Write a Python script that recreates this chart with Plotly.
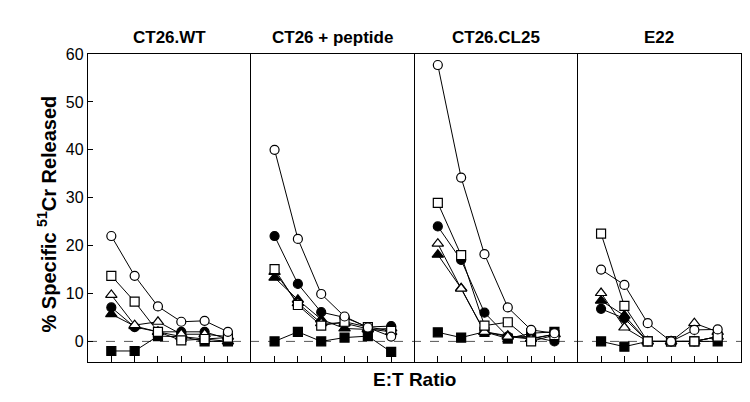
import plotly.graph_objects as go
from plotly.subplots import make_subplots

panels = ["CT26.WT", "CT26 + peptide", "CT26.CL25", "E22"]
et_positions = [1, 2, 3, 4, 5, 6]

open_circle = [
    [22, 13.7, 7.3, 4.1, 4.3, 2.0],
    [40, 21.4, 9.9, 5.2, 2.9, 1.0],
    [57.7, 34.2, 18.2, 7.1, 2.4, 1.7],
    [15, 11.8, 3.8, 0, 2.4, 2.5],
]
open_square = [
    [13.7, 8.3, 2.0, 0.2, 0.5, 0.8],
    [15.1, 7.6, 3.3, 4.1, 3.0, 2.2],
    [28.9, 18, 3.3, 4.0, 0, 1.3],
    [22.5, 7.4, 0, 0, 0, 1.0],
]
open_triangle = [
    [9.7, 3.4, 4.1, 1.5, 1.5, 1],
    [14.5, 8, 3.8, 3.8, 2.6, 2],
    [20.4, 11, 2, 1, 0.5, 1.5],
    [10.1, 2.9, 0, 0, 3.8, 2],
]
filled_circle = [
    [7.1, 3, 2, 2, 2, 0.5],
    [22, 12, 6.1, 5, 3, 3.2],
    [24, 17, 6, 1, 1, 0],
    [6.8, 4.8, 0, 0, 0, 1],
]
filled_triangle = [
    [5.7, 3.2, 2, 1, 0.5, 0],
    [13.3, 8.7, 4.6, 2.7, 2.5, 2.7],
    [18.1, 11.1, 2, 1.2, 0.6, 1.5],
    [8.5, 5.4, 0, 0, 0, 1],
]
filled_square = [
    [-2, -2, 1.1, 1, 0, 0],
    [0, 2, 0, 0.8, 1.1, -2.2],
    [1.9, 0.8, 2, 0.6, 1.7, 2],
    [0, -1.1, 0, 0, 0, 0],
]
y_ticks = [0, 10, 20, 30, 40, 50, 60]

series = [
    (filled_square, "square", "black", 9),
    (filled_triangle, "triangle-up", "black", 10),
    (filled_circle, "circle", "black", 9),
    (open_triangle, "triangle-up", "white", 10),
    (open_square, "square", "white", 9),
    (open_circle, "circle", "white", 9),
]

fig = make_subplots(rows=1, cols=4, shared_yaxes=True, horizontal_spacing=0)

for p in range(4):
    for data, sym, fill, size in series:
        fig.add_trace(
            go.Scatter(
                x=et_positions, y=data[p], mode="lines+markers",
                line=dict(color="black", width=1),
                marker=dict(symbol=sym, color=fill, size=size,
                            line=dict(color="black", width=1.2)),
                showlegend=False, cliponaxis=False,
            ),
            row=1, col=p + 1,
        )
    fig.update_xaxes(
        range=[0, 7], tickvals=et_positions, ticks="inside", ticklen=6,
        tickcolor="black", showticklabels=False, showgrid=False, zeroline=False,
        showline=True, mirror=True, linecolor="black", linewidth=1.3,
        row=1, col=p + 1,
    )
    fig.update_yaxes(
        range=[-4.3, 60], showgrid=False, zeroline=False,
        showline=True, mirror=(p == 3), linecolor="black", linewidth=1.3,
        row=1, col=p + 1,
    )
    fig.add_annotation(
        text="<b>%s</b>" % panels[p], xref="x%s domain" % ("" if p == 0 else p + 1),
        yref="paper", x=0.5, y=1.09, showarrow=False,
        font=dict(family="Liberation Sans, Arial", size=17, color="black"),
    )

fig.update_yaxes(tickvals=y_ticks, ticks="inside", ticklen=5, tickcolor="black",
                 tickfont=dict(family="Liberation Sans, Arial", size=16, color="black"),
                 row=1, col=1)
for c in range(2, 5):
    fig.update_yaxes(ticks="", showticklabels=False, row=1, col=c)

fig.add_shape(type="line", xref="paper", yref="y", x0=0, x1=1, y0=0, y1=0,
              line=dict(color="#555555", width=1, dash="dash"), layer="below")

fig.add_annotation(text="<b>E:T Ratio</b>", xref="paper", yref="paper",
                   x=0.5, y=-0.097, showarrow=False,
                   font=dict(family="Liberation Sans, Arial", size=19, color="black"))
fig.add_annotation(text="<b>% Specific <sup>51</sup>Cr Released</b>", xref="paper",
                   yref="paper", x=-0.086, y=0.48, textangle=-90, showarrow=False,
                   font=dict(family="Liberation Sans, Arial", size=20, color="black"))

fig.update_layout(
    width=750, height=402, margin=dict(l=80, r=17, t=46, b=48),
    plot_bgcolor="white", paper_bgcolor="white",
)
fig.write_html("out.html")
